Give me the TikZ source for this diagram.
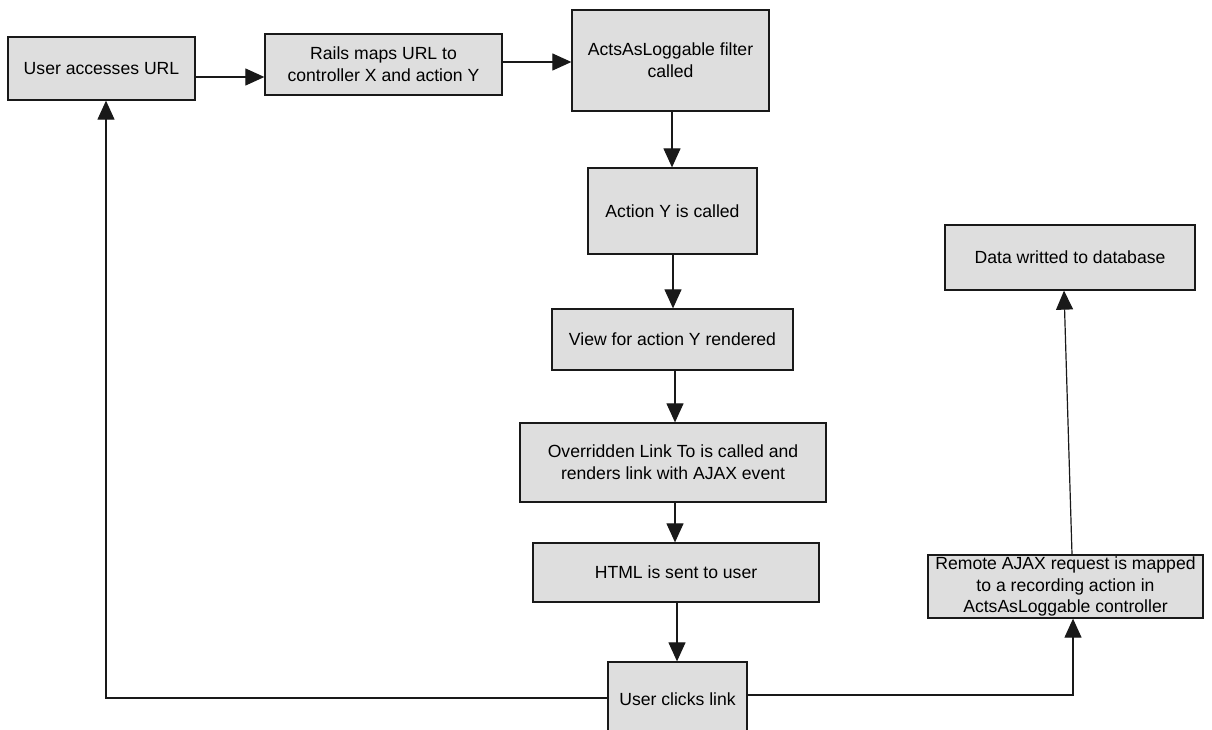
\documentclass[tikz,border=0pt]{standalone}
\usepackage{fontspec}
\setmainfont{Liberation Sans}
\usetikzlibrary{arrows.meta}
\definecolor{boxfill}{gray}{0.87}
\definecolor{ink}{gray}{0.1}
\begin{document}
\begin{tikzpicture}[x=1pt,y=-1pt,
  box/.style={draw=ink, line width=1.3pt, fill=boxfill, inner sep=0pt, align=center,
    font=\fontsize{17.6}{21.7}\selectfont},
  arr/.style={draw=ink, line width=1.2pt, -{Triangle[length=19pt,width=17pt]}},
  conn/.style={draw=ink, line width=1.2pt}]
\useasboundingbox (0,0) rectangle (1212,730);
\clip (0,0) rectangle (1212,730);
\fill[white] (0,0) rectangle (1212,730);
\node[box, minimum width=187pt, minimum height=63pt] (b1) at (101.5,68.5) {User accesses URL};
\node[box, minimum width=237pt, minimum height=61pt] (b2) at (383.5,64.5) {Rails maps URL to\\controller X and action Y};
\node[box, minimum width=197pt, minimum height=101pt] (b3) at (670.5,60.5) {ActsAsLoggable filter\\called};
\node[box, minimum width=169pt, minimum height=86pt] (b4) at (672.5,211) {Action Y is called};
\node[box, minimum width=241pt, minimum height=61pt] (b5) at (672.5,339.5) {View for action Y rendered};
\node[box, minimum width=306pt, minimum height=79pt] (b6) at (673,462.5) {Overridden Link To is called and\\renders link with AJAX event};
\node[box, minimum width=286pt, minimum height=59pt] (b7) at (676,572.5) {HTML is sent to user};
\node[box, minimum width=139pt, minimum height=74pt] (b8) at (677.5,699) {User clicks link};
\node[box, minimum width=275pt, minimum height=63pt] (b9) at (1065.5,586.5) {Remote AJAX request is mapped\\to a recording action in\\ActsAsLoggable controller};
\node[box, minimum width=250pt, minimum height=65pt] (b10) at (1070,257.5) {Data writted to database};
\draw[arr] (b1.east |- 0,77) -- (b2.west |- 0,77);
\draw[arr] (b2.east |- 0,62) -- (b3.west |- 0,62);
\draw[arr] (b3.south -| 672,0) -- (b4.north -| 672,0);
\draw[arr] (b4.south -| 673,0) -- (b5.north -| 673,0);
\draw[arr] (b5.south -| 675,0) -- (b6.north -| 675,0);
\draw[arr] (b6.south -| 675,0) -- (b7.north -| 675,0);
\draw[arr] (b7.south -| 677,0) -- (b8.north -| 677,0);
\coordinate (lc) at (106,698);
\coordinate (rc) at (1073,695);
\draw[arr] (b8.west |- lc) -- (lc) -- (b1.south -| lc);
\draw[arr] (b8.east |- rc) -- (rc) -- (b9.south -| rc);
\draw[arr] (b9.north -| 1072,0) -- (b10.south -| 1064,0);
\end{tikzpicture}
\end{document}
